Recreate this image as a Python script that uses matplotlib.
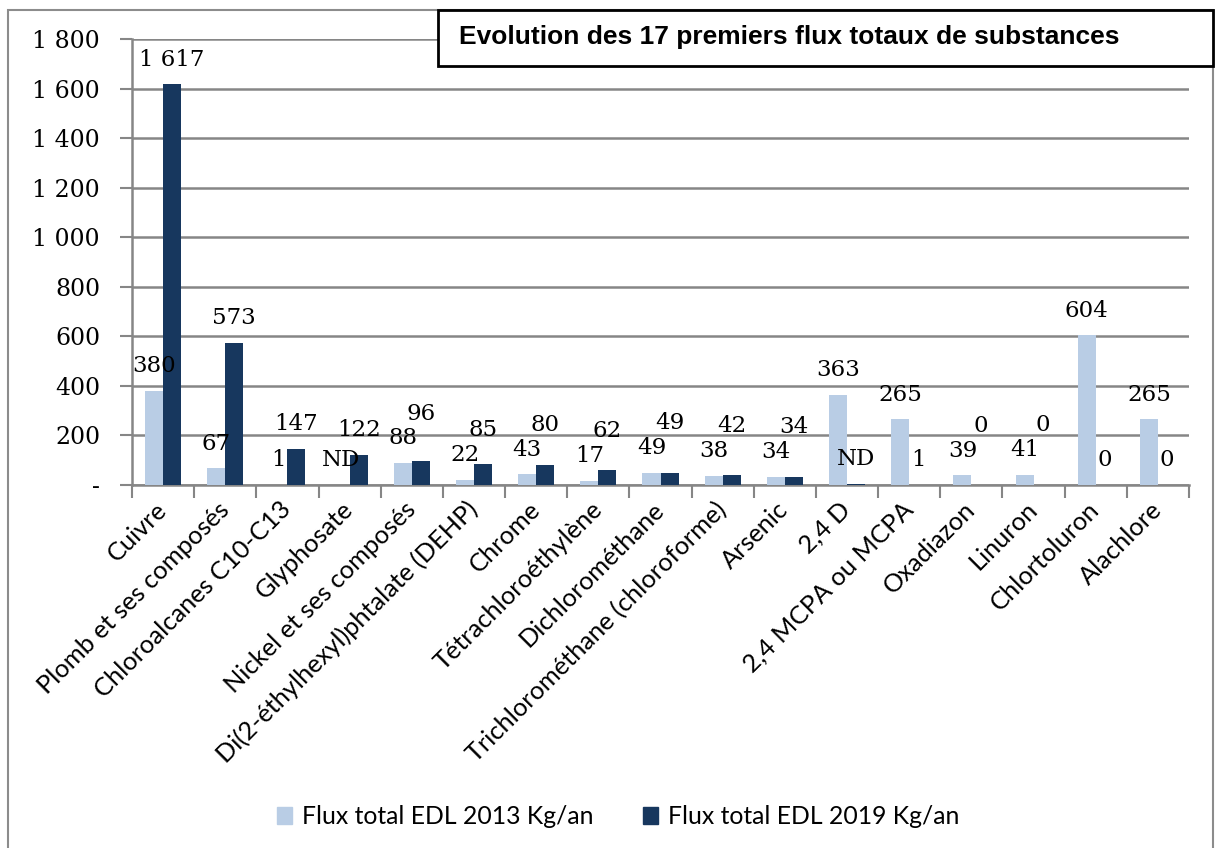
import numpy as np
import matplotlib
matplotlib.use('Agg')
import matplotlib.pyplot as plt
from matplotlib.patches import Rectangle, Patch

# Substances (ordre du graphique)
substances = ['Cuivre', 'Plomb et ses composés', 'Chloroalcanes C10-C13',
              'Glyphosate', 'Nickel et ses composés',
              'Di(2-éthylhexyl)phtalate (DEHP)', 'Chrome',
              'Tétrachloroéthylène', 'Dichlorométhane',
              'Trichlorométhane (chloroforme)', 'Arsenic', '2,4 D',
              '2,4 MCPA ou MCPA', 'Oxadiazon', 'Linuron', 'Chlortoluron',
              'Alachlore']

# Flux totaux en kg/an (ND = non determine, barre a ~0)
flux_2013 = [380, 67, 1, 0, 88, 22, 43, 17, 49, 38, 34, 363, 265, 39, 41, 604, 265]
flux_2019 = [1617, 573, 147, 122, 96, 85, 80, 62, 49, 42, 34, 3, 1, 0, 0, 0, 0]
labels_2013 = ['380', '67', '1', 'ND', '88', '22', '43', '17', '49', '38', '34',
               '363', '265', '39', '41', '604', '265']
labels_2019 = ['1 617', '573', '147', '122', '96', '85', '80', '62', '49', '42',
               '34', 'ND', '1', '0', '0', '0', '0']

y_ticks = [0, 200, 400, 600, 800, 1000, 1200, 1400, 1600, 1800]
y_tick_labels = ['-', '200', '400', '600', '800', '1 000', '1 200', '1 400',
                 '1 600', '1 800']

legend_labels = ['Flux total EDL 2013 Kg/an', 'Flux total EDL 2019 Kg/an']
title = 'Evolution des 17 premiers flux totaux de substances'

light = '#b9cde5'
dark = '#17375e'
grid_col = '#868686'
serif = 'DejaVu Serif'
sans = 'Lato'

fig = plt.figure(figsize=(12.19, 8.48), dpi=100)
ax = fig.add_axes([0.1083, 0.4281, 0.8671, 0.5259])

x = np.arange(len(substances))
w = 0.29
ax.bar(x - w / 2, flux_2013, w, color=light, zorder=3)
ax.bar(x + w / 2, flux_2019, w, color=dark, zorder=3)

# data labels: centred above bars, 2019 label lifted when it would hit 2013 one
off = 100
for i in range(len(substances)):
    y13 = flux_2013[i] + off
    y19 = flux_2019[i] + off
    if abs(y19 - y13) < off:
        y19 = y13 + off
    ax.text(x[i] - w / 2, y13, labels_2013[i], ha='center', va='center',
            fontsize=16.5, family=serif, zorder=4)
    ax.text(x[i] + w / 2, y19, labels_2019[i], ha='center', va='center',
            fontsize=16.5, family=serif, zorder=4)

ax.set_xlim(-0.5, len(substances) - 0.5)
ax.set_ylim(0, 1800)
ax.set_yticks(y_ticks)
ax.set_yticklabels(y_tick_labels, family=serif, fontsize=17)
ax.yaxis.grid(True, color=grid_col, linewidth=1.8, zorder=0)
ax.tick_params(axis='y', length=9, width=1.5, color=grid_col, pad=14)

ax.set_xticks(x)
ax.set_xticklabels(substances, rotation=45, ha='right', va='center',
                   rotation_mode='anchor', family=sans, fontsize=18.3)
ax.set_xticks(np.arange(-0.5, len(substances)), minor=True)
ax.tick_params(axis='x', which='major', length=0, pad=15)
ax.tick_params(axis='x', which='minor', length=9, width=1.5, color=grid_col)

for s in ['top', 'right']:
    ax.spines[s].set_visible(False)
for s in ['left', 'bottom']:
    ax.spines[s].set_color(grid_col)
    ax.spines[s].set_linewidth(1.8)

# outer frame of the chart
fig.patches.append(Rectangle((0.0066, -0.02), 0.9885, 1.008, fill=False,
                             edgecolor='#8c8c8c', linewidth=1.5,
                             transform=fig.transFigure, zorder=0))

# title box
fig.patches.append(Rectangle((0.3593, 0.9222), 0.6358, 0.066, facecolor='white',
                             edgecolor='black', linewidth=2,
                             transform=fig.transFigure, zorder=5))
fig.text(0.3765, 0.956, title, ha='left', va='center', fontsize=19,
         fontweight='bold', family='Liberation Sans', zorder=6)

handles = [Patch(color=light), Patch(color=dark)]
fig.legend(handles, legend_labels, loc='center', bbox_to_anchor=(0.507, 0.0366),
           ncol=2, frameon=False, prop={'family': sans, 'size': 17.8},
           handlelength=0.6, handleheight=0.7, handletextpad=0.4,
           columnspacing=2.0)

fig.savefig('out.png', dpi=100)
